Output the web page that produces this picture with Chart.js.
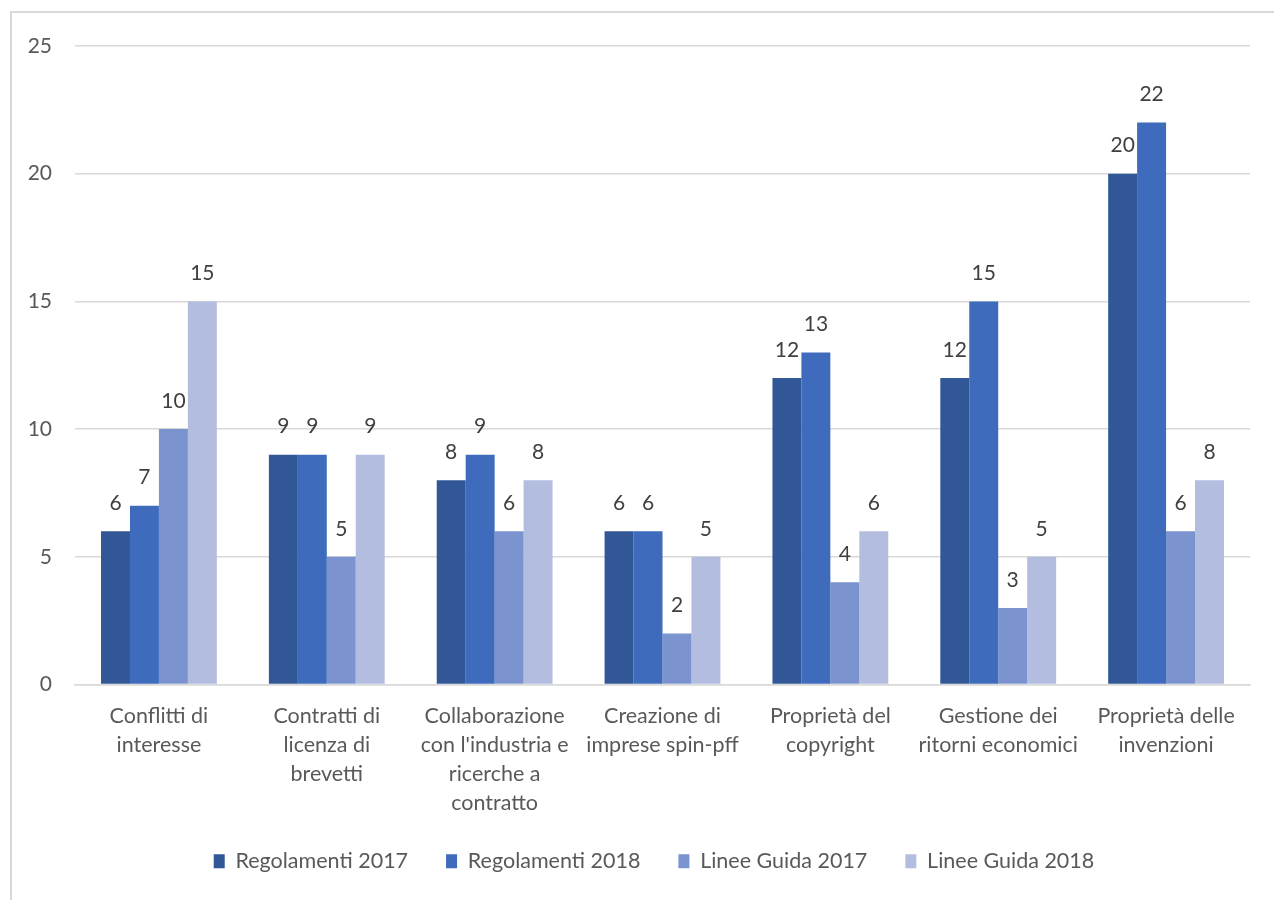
<!DOCTYPE html>
<html>
<head>
<meta charset="utf-8">
<script src="https://cdn.jsdelivr.net/npm/chart.js@4"></script>
<style>
  body { margin: 0; background: #fff; }
  #wrap { position: relative; width: 1274px; height: 900px; }
  #frame { position: absolute; left: 10px; top: 11px; width: 1300px; height: 950px;
           border-left: 2px solid #d9d9d9; border-top: 2px solid #d9d9d9; }
  canvas { position: absolute; left: 0; top: 0; }
</style>
</head>
<body>
<div id="wrap">
  <div id="frame"></div>
  <canvas id="barChart" width="1274" height="900"></canvas>
</div>
<script>
// categories (multi-line labels as in the original)
const categories = [
  ['Conflitti di', 'interesse'],
  ['Contratti di', 'licenza di', 'brevetti'],
  ['Collaborazione', "con l'industria e", 'ricerche a', 'contratto'],
  ['Creazione di', 'imprese spin-pff'],
  ['Proprietà del', 'copyright'],
  ['Gestione dei', 'ritorni economici'],
  ['Proprietà delle', 'invenzioni']
];

const regolamenti2017 = [6, 9, 8, 6, 12, 12, 20];
const regolamenti2018 = [7, 9, 9, 6, 13, 15, 22];
const lineeGuida2017 = [10, 5, 6, 2, 4, 3, 6];
const lineeGuida2018 = [15, 9, 8, 5, 6, 5, 8];

const yTicks = [0, 5, 10, 15, 20, 25];

const fontFamily = 'Lato, "Open Sans", sans-serif';

// draw the value above each bar
const valueLabels = {
  id: 'valueLabels',
  afterDatasetsDraw(chart) {
    const ctx = chart.ctx;
    ctx.save();
    ctx.font = '21px ' + fontFamily;
    ctx.fillStyle = '#404040';
    ctx.textAlign = 'center';
    ctx.textBaseline = 'middle';
    chart.data.datasets.forEach((ds, i) => {
      chart.getDatasetMeta(i).data.forEach((bar, j) => {
        ctx.fillText(ds.data[j], bar.x, bar.y - 28);
      });
    });
    ctx.restore();
  }
};

// legend in the original sits a bit right of centre (centred on the frame)
const legendShift = {
  id: 'legendShift',
  afterLayout(chart) {
    chart.legend.left += 29;
    chart.legend.right += 29;
  }
};

const ctx = document.getElementById('barChart').getContext('2d');
new Chart(ctx, {
  type: 'bar',
  data: {
    labels: categories,
    datasets: [
      { label: 'Regolamenti 2017', data: regolamenti2017, backgroundColor: '#325797' },
      { label: 'Regolamenti 2018', data: regolamenti2018, backgroundColor: '#3e6bbb' },
      { label: 'Linee Guida 2017', data: lineeGuida2017, backgroundColor: '#7b93cf' },
      { label: 'Linee Guida 2018', data: lineeGuida2018, backgroundColor: '#b3bde0' }
    ]
  },
  options: {
    responsive: false,
    animation: false,
    layout: { padding: { top: 46, right: 24, bottom: 18, left: 0 } },
    datasets: {
      bar: { barPercentage: 1, categoryPercentage: 0.69, borderWidth: 0 }
    },
    scales: {
      x: {
        grid: { display: false, drawTicks: false },
        border: { display: true, color: '#d9d9d9', width: 1.5 },
        ticks: {
          color: '#595959',
          font: { family: fontFamily, size: 21.5, lineHeight: 1.35 },
          padding: 17,
          maxRotation: 0,
          autoSkip: false
        },
        afterFit(scale) { scale.height = 128; }
      },
      y: {
        min: 0,
        max: 25,
        afterBuildTicks(scale) { scale.ticks = yTicks.map(v => ({ value: v })); },
        grid: { color: '#d9d9d9', lineWidth: 1.5, drawTicks: false },
        border: { display: false },
        ticks: {
          color: '#595959',
          font: { family: fontFamily, size: 21 },
          padding: 23
        },
        afterFit(scale) { scale.width = 75; }
      }
    },
    plugins: {
      legend: {
        position: 'bottom',
        labels: {
          color: '#595959',
          font: { family: fontFamily, size: 21.5 },
          boxWidth: 11,
          boxHeight: 14,
          padding: 38
        }
      },
      tooltip: { enabled: false }
    }
  },
  plugins: [valueLabels, legendShift]
});
</script>
</body>
</html>
